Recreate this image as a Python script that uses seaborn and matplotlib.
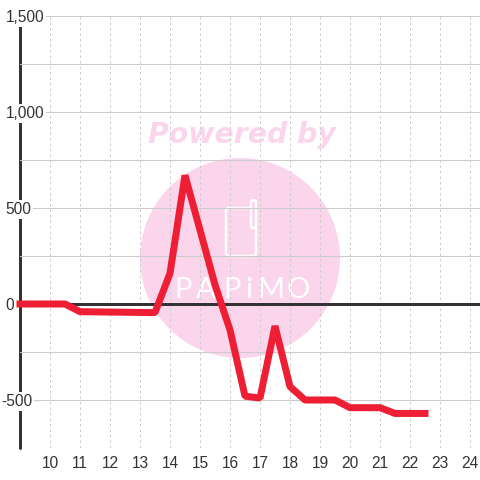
# plot.py - red line over a pale watermark
import matplotlib
matplotlib.use("Agg")
import matplotlib.pyplot as plt
import matplotlib.transforms as mtrans
from matplotlib.patches import Circle, FancyBboxPatch
from matplotlib.ticker import FixedLocator
import pandas as pd
import seaborn as sns

# ===============================
# Data
# ===============================

hours = [9, 10.5, 11, 12, 13.5, 14, 14.5, 15.5, 16, 16.5, 17, 17.5, 18, 18.5,
         19.5, 20, 21, 21.5, 22.5]
values = [0, 0, -40, -42, -45, 160, 670, 100, -135, -480, -490, -115, -430,
          -500, -500, -540, -540, -570, -570]
x_ticks = list(range(10, 25))
y_ticks = [-500, 0, 500, 1000, 1500]
y_labels = ["-500", "0", "500", "1,000", "1,500"]
y_minor = [-750, -250, 250, 750, 1250]

df = pd.DataFrame({"hour": hours, "value": values})

# ===============================
# Style
# ===============================

sns.set_theme(style="white")
plt.rcParams["font.family"] = ["Liberation Sans", "DejaVu Sans"]

PINK = "#fbd5ec"
DARK = "#333333"
GRID = "#cccccc"
PX = 0.72  # points per pixel at dpi 100

fig = plt.figure(figsize=(4.8, 4.8), dpi=100, facecolor="white")
ax = fig.add_axes([20 / 480, 32 / 480, 460 / 480, 432 / 480])
ax.set_axisbelow(True)


def fx(px):
    return px / 480


def fy(px):
    return 1 - px / 480


# ===============================
# Watermark
# ===============================

tf = fig.transFigure
ax.add_patch(Circle((fx(240), fy(258)), 100 / 480, transform=tf, color=PINK,
                    lw=0, zorder=0.1, clip_on=False))
ax.text(fx(241.5), fy(135), "Powered by", transform=tf, color=PINK, fontsize=20.4,
        family="DejaVu Sans", weight="bold", style="italic",
        ha="center", va="center", zorder=0.2)
ax.add_patch(FancyBboxPatch((fx(226), fy(256)), 30 / 480, 48 / 480,
                            boxstyle="round,pad=0,rounding_size=0.006",
                            transform=tf, fc="none", ec="white", lw=1.8,
                            zorder=0.2))
ax.add_patch(FancyBboxPatch((fx(251), fy(228)), 5 / 480, 28 / 480,
                            boxstyle="round,pad=0,rounding_size=0.005",
                            transform=tf, fc=PINK, ec="white", lw=1.8,
                            zorder=0.2))
for letter, px_x in zip("PAPiMO", [183, 206, 232, 249, 271, 298]):
    ax.text(fx(px_x), fy(290), letter, transform=tf, color="white", fontsize=21,
            family="Lato", weight="regular", ha="center", va="center", zorder=0.2)

# ===============================
# Line
# ===============================

ax.axvline(9, color=DARK, lw=3 * PX, zorder=0.4, clip_on=False)
ax.axhline(0, color=DARK, lw=3 * PX, zorder=1)
sns.lineplot(data=df, x="hour", y="value", ax=ax, color="#ee1f35", lw=7 * PX,
             solid_capstyle="projecting", solid_joinstyle="bevel",
             errorbar=None, zorder=3, clip_on=False)

# ===============================
# Axes
# ===============================

ax.set_xlim(9, 9 + 460 / 30)
ax.set_ylim(-750, 1500)
ax.set_xticks(x_ticks)
ax.set_yticks(y_ticks)
ax.set_yticklabels(y_labels)
ax.yaxis.set_minor_locator(FixedLocator(y_minor))
ax.set_xlabel("")
ax.set_ylabel("")

ax.grid(axis="y", which="both", color=GRID, lw=1.1 * PX, linestyle="-")
ax.grid(axis="x", which="major", color=GRID, lw=1 * PX, linestyle=(0, (2.5, 3)))
sns.despine(ax=ax, left=True, bottom=True, top=True, right=True)

ax.tick_params(axis="x", which="both", length=0, labelsize=11.2, labelcolor=DARK,
               pad=6)
ax.tick_params(axis="y", which="both", length=0, labelsize=11.2, labelcolor=DARK,
               pad=10.2)
for label, text in zip(ax.get_yticklabels(), y_labels):
    label.set_ha("left")
    label.set_bbox(dict(facecolor="white", edgecolor="none", pad=1.2))
    if text.startswith("-"):
        label.set_transform(label.get_transform() + mtrans.ScaledTranslation(
            -5 / 100, 0, fig.dpi_scale_trans))

fig.savefig("out.png", dpi=100, facecolor="white")
plt.close(fig)
